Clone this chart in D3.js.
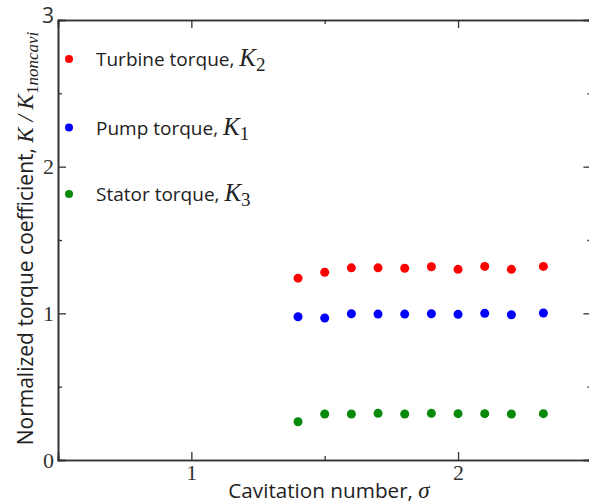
<!DOCTYPE html>
<html>
<head>
<meta charset="utf-8">
<script src="https://cdn.jsdelivr.net/npm/d3@7"></script>
<style>
  body { margin: 0; background: #fff; }
  .lab { font-family: "Open Sans", sans-serif; fill: #222; }
  .tick text { font-family: "Liberation Serif", serif; font-size: 22px; fill: #333; }
</style>
</head>
<body>
<div class="canva"></div>
<script>
// cavitation number values
const sigma = [1.4, 1.5, 1.6, 1.7, 1.8, 1.9, 2.0, 2.1, 2.2, 2.32];
// normalized torque coefficients
const turbine = [1.24, 1.28, 1.31, 1.31, 1.307, 1.318, 1.30, 1.32, 1.30, 1.32];
const pump = [0.977, 0.968, 0.997, 0.995, 0.995, 0.997, 0.993, 1.0, 0.99, 1.002];
const stator = [0.261, 0.314, 0.314, 0.318, 0.314, 0.318, 0.316, 0.316, 0.314, 0.316];

const xMajor = [1, 2];
const xMinor = [1.5];
const yMajor = [0, 1, 2, 3];
const yMinor = [0.5, 1.5, 2.5];

const series = [
  {name: "Turbine torque, ", sub: "2", color: "#ff0000", values: turbine},
  {name: "Pump torque, ", sub: "1", color: "#0000ff", values: pump},
  {name: "Stator torque, ", sub: "3", color: "#0a8a0a", values: stator}
];

const svg = d3.select(".canva").append("svg")
  .attr("width", 589)
  .attr("height", 503);

const x = d3.scaleLinear().domain([0.5, 2.5]).range([58, 591.4]);
const y = d3.scaleLinear().domain([0, 3]).range([460, 20]);

const axisColor = "#333";

// bottom + top axes, ticks pointing inward
const bottomAxis = svg.append("g").attr("transform", `translate(0,${y(0)})`)
  .call(d3.axisBottom(x).tickValues(xMajor).tickFormat(d3.format("d")).tickSize(-8).tickPadding(4.5));
bottomAxis.append("g").call(d3.axisBottom(x).tickValues(xMinor).tickFormat("").tickSize(-4));

const topAxis = svg.append("g").attr("transform", `translate(0,${y(3)})`)
  .call(d3.axisTop(x).tickValues(xMajor).tickFormat("").tickSize(-8));
topAxis.append("g").call(d3.axisTop(x).tickValues(xMinor).tickFormat("").tickSize(-4));

const leftAxis = svg.append("g").attr("transform", `translate(${x(0.5)},0)`)
  .call(d3.axisLeft(y).tickValues(yMajor).tickFormat(d3.format("d")).tickSize(-8).tickPadding(4));
leftAxis.append("g").call(d3.axisLeft(y).tickValues(yMinor).tickFormat("").tickSize(-4));

const rightAxis = svg.append("g").attr("transform", `translate(${x(2.5)},0)`)
  .call(d3.axisRight(y).tickValues(yMajor).tickFormat("").tickSize(-8));
rightAxis.append("g").call(d3.axisRight(y).tickValues(yMinor).tickFormat("").tickSize(-4));

svg.selectAll(".domain").attr("stroke", axisColor).attr("stroke-width", 1.6);
svg.selectAll(".tick line").attr("stroke", axisColor).attr("stroke-width", 1.3);

// the top label "3" is drawn in the sans font in the original
leftAxis.selectAll(".tick text").filter(d => d === 3)
  .style("font-family", "'Open Sans', sans-serif")
  .style("font-size", "21px")
  .attr("dy", "0.1em");

// points
series.forEach(s => {
  svg.append("g").selectAll("circle")
    .data(s.values)
    .enter()
    .append("circle")
      .attr("cx", (d, i) => x(sigma[i]))
      .attr("cy", d => y(d))
      .attr("r", 4.5)
      .attr("fill", s.color);
});

// legend
const legendY = [59, 127.5, 194];
series.forEach((s, i) => {
  const g = svg.append("g").attr("transform", `translate(69,${legendY[i]})`);
  g.append("circle").attr("r", 4).attr("fill", s.color);
  const t = g.append("text").attr("class", "lab")
    .attr("x", 27).attr("y", 7)
    .attr("font-size", 19);
  t.append("tspan").text(s.name);
  t.append("tspan").text("K")
    .style("font-family", "'Liberation Serif', serif").style("font-style", "italic").attr("font-size", 25);
  t.append("tspan").text(s.sub).attr("dy", 5)
    .style("font-family", "'Liberation Serif', serif").attr("font-size", 19);
});

// x label
const xl = svg.append("text").attr("class", "lab")
  .attr("x", 329).attr("y", 498)
  .attr("text-anchor", "middle")
  .attr("font-size", 20.7);
xl.append("tspan").text("Cavitation number, ");
xl.append("tspan").text("σ").style("font-family", "'Liberation Serif', serif").style("font-style", "italic").attr("font-size", 23);

// y label
const yl = svg.append("text").attr("class", "lab")
  .attr("transform", "translate(33,238.5) rotate(-90)")
  .attr("text-anchor", "middle")
  .attr("font-size", 21);
yl.append("tspan").text("Normalized torque coefficient, ");
yl.append("tspan").text("K / K").style("font-family", "'Liberation Serif', serif").style("font-style", "italic").attr("font-size", 23);
yl.append("tspan").text("1").attr("dy", 5).style("font-family", "'Liberation Serif', serif").attr("font-size", 17);
yl.append("tspan").text("noncavi").style("font-family", "'Liberation Serif', serif").style("font-style", "italic").attr("font-size", 17);
</script>
</body>
</html>
